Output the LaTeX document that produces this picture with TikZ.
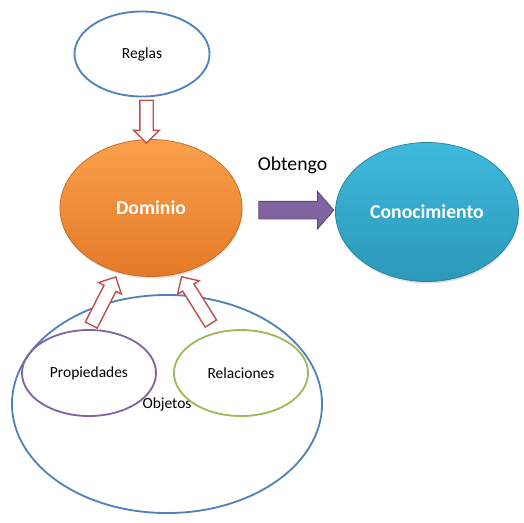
\documentclass[tikz,border=0pt]{standalone}
\usepackage{fontspec}
\setmainfont{Carlito}
\usepackage{xcolor}
\usepackage{tikz}
\usetikzlibrary{shapes,arrows,positioning,shadows,calc}

\definecolor{azul}{HTML}{4F81BD}
\definecolor{rojo}{HTML}{C0504D}
\definecolor{morado}{HTML}{8064A2}
\definecolor{verde}{HTML}{9BBB59}
\definecolor{naranjaA}{RGB}{250,160,75}
\definecolor{naranjaB}{RGB}{228,122,40}
\definecolor{celesteA}{RGB}{62,186,220}
\definecolor{celesteB}{RGB}{44,152,186}

\begin{document}
\begin{tikzpicture}[
    x=0.025cm, y=-0.025cm,
    elip/.style={ellipse, draw, line width=1.3pt, inner sep=0pt, align=center, font=\fontsize{11}{13}\selectfont},
    grande/.style={ellipse, inner sep=0pt, line width=0.5pt, text=white, font=\fontsize{14}{17}\selectfont\bfseries,
        drop shadow={opacity=0.25, shadow xshift=0.4pt, shadow yshift=-1.4pt}},
    hueca/.style={single arrow, draw=rojo, fill=white, line width=1pt, inner xsep=0pt, inner ysep=0.15cm,
        single arrow head extend=0.15cm, single arrow tip angle=90},
    llena/.style={single arrow, draw=morado!70!black, fill=morado, line width=0.6pt, inner xsep=0pt, inner ysep=0.21cm,
        single arrow head extend=0.25cm, single arrow tip angle=98, minimum height=1.875cm}
]
    \useasboundingbox (0,0) rectangle (524,522);

    % conjunto de objetos
    \node[elip, draw=azul, minimum width=7.75cm, minimum height=5.45cm] (objetos) at (167,404) {\raisebox{-4pt}{Objetos}};
    \node[elip, draw=morado, minimum width=3.35cm, minimum height=2.15cm] (prop) at (89,373) {Propiedades};
    \node[elip, draw=verde, minimum width=3.35cm, minimum height=2.15cm] (rel) at (241,373) {Relaciones};

    \node[elip, draw=azul, minimum width=3.375cm, minimum height=2.125cm] (reglas) at (142,54) {Reglas};
    \node[grande, draw=naranjaB!85!black, top color=naranjaA, bottom color=naranjaB,
        minimum width=4.55cm, minimum height=3.425cm] (dominio) at (151,208) {Dominio};
    \node[grande, draw=celesteB!85!black, top color=celesteA, bottom color=celesteB,
        minimum width=4.575cm, minimum height=3.475cm] (conoc) at (427,212) {Conocimiento};

    % flechas huecas
    \node[hueca, rotate=-90, minimum height=1.07cm] (freglas) at ($(reglas.south)!0.5!(dominio.north)$) {};
    \node[hueca, rotate=63, minimum height=1.35cm] (fprop) at (102,304) {};
    \node[hueca, rotate=122, minimum height=1.38cm] (frel) at (198,303) {};

    \node[llena] (fobt) at ($(dominio.east)!0.54!(conoc.west)$) {};
    \node[above=0.55cm of fobt, font=\fontsize{14}{17}\selectfont] (obtengo) {Obtengo};
\end{tikzpicture}
\end{document}
